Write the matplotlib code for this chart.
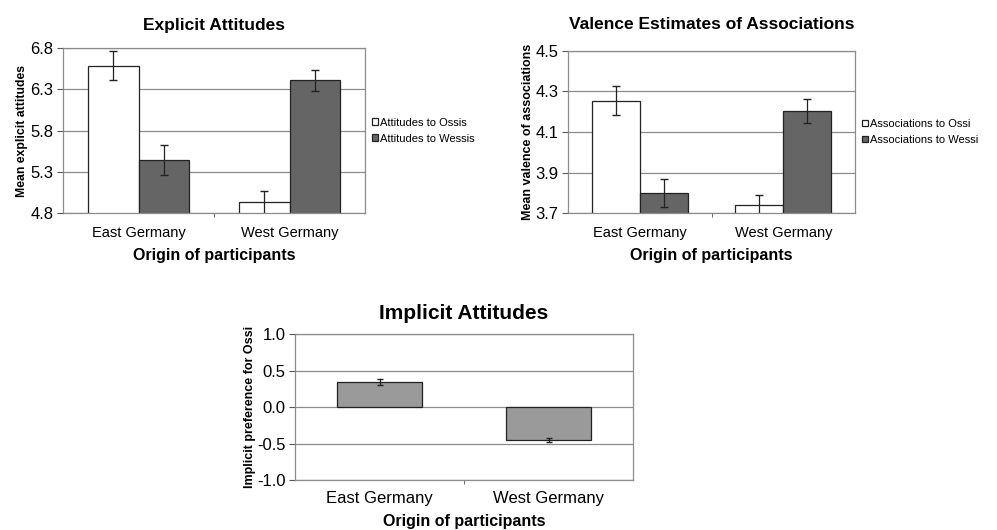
import numpy as np
import matplotlib.pyplot as plt

plt.rcParams['font.family'] = ['Liberation Sans', 'DejaVu Sans']

origins = ['East Germany', 'West Germany']

# explicit attitudes
explicit_ossi = [6.59, 4.93]
explicit_ossi_err = [0.18, 0.14]
explicit_wessi = [5.44, 6.41]
explicit_wessi_err = [0.18, 0.13]
explicit_ticks = [4.8, 5.3, 5.8, 6.3, 6.8]

# valence of associations
valence_ossi = [4.255, 3.74]
valence_ossi_err = [0.07, 0.05]
valence_wessi = [3.80, 4.205]
valence_wessi_err = [0.07, 0.06]
valence_ticks = [3.7, 3.9, 4.1, 4.3, 4.5]

# implicit attitudes
implicit_pref = [0.35, -0.45]
implicit_err = [0.04, 0.025]
implicit_ticks = [-1.0, -0.5, 0.0, 0.5, 1.0]

light = 'white'
dark = '#656565'
mid = '#9a9a9a'
grid_col = '#8c8c8c'


def style_axes(ax, ticks, fmt, ysize, xsize, xpad):
    ax.set_xlim(-0.5, 1.5)
    ax.set_ylim(ticks[0], ticks[-1])
    ax.set_yticks(ticks)
    ax.set_yticklabels([fmt % t for t in ticks], fontsize=ysize)
    ax.set_xticks([0, 1])
    ax.set_xticklabels(origins, fontsize=xsize)
    ax.set_xticks([0.5], minor=True)
    ax.tick_params(axis='x', which='major', length=0, pad=xpad)
    ax.tick_params(axis='x', which='minor', length=3, color='#555555')
    ax.tick_params(axis='y', length=4, color='#555555', pad=3)
    for t in ticks:
        ax.axhline(t, color=grid_col, lw=0.9, zorder=0)
    for s in ax.spines.values():
        s.set_color(grid_col)
        s.set_linewidth(0.9)


def paired(ax, ossi, ossi_err, wessi, wessi_err, labels):
    x = np.arange(len(origins))
    w = 1 / 3
    ax.bar(x - w / 2, ossi, w, color=light, edgecolor='#222222', lw=0.9,
           yerr=ossi_err, capsize=3, error_kw=dict(lw=0.9, ecolor='#222222'),
           label=labels[0], zorder=2)
    ax.bar(x + w / 2, wessi, w, color=dark, edgecolor='#222222', lw=0.9,
           yerr=wessi_err, capsize=3, error_kw=dict(lw=0.9, ecolor='#222222'),
           label=labels[1], zorder=2)


def legend(ax):
    ax.legend(loc='center left', bbox_to_anchor=(1.0, 0.5), frameon=False, fontsize=8,
              handlelength=0.55, handleheight=0.55, handletextpad=0.15, labelspacing=0.55,
              borderaxespad=0.2)


fig = plt.figure(figsize=(9.97, 5.30), dpi=100)

ax1 = fig.add_axes([0.0632, 0.598, 0.303, 0.311])
paired(ax1, explicit_ossi, explicit_ossi_err, explicit_wessi, explicit_wessi_err,
       ['Attitudes to Ossis', 'Attitudes to Wessis'])
style_axes(ax1, explicit_ticks, '%.1f', 12, 10.5, 9)
ax1.set_title('Explicit Attitudes', fontsize=12.5, fontweight='bold', pad=13)
ax1.set_ylabel('Mean explicit attitudes', fontsize=8.8, fontweight='bold', labelpad=2)
ax1.set_xlabel('Origin of participants', fontsize=11.5, fontweight='bold', labelpad=6)
legend(ax1)

ax2 = fig.add_axes([0.5697, 0.598, 0.288, 0.306])
paired(ax2, valence_ossi, valence_ossi_err, valence_wessi, valence_wessi_err,
       ['Associations to Ossi', 'Associations to Wessi'])
style_axes(ax2, valence_ticks, '%.1f', 12, 10.5, 9)
ax2.set_title('Valence Estimates of Associations', fontsize=12.5, fontweight='bold', pad=16)
ax2.set_ylabel('Mean valence of associations', fontsize=9.0, fontweight='bold', labelpad=1)
ax2.set_xlabel('Origin of participants', fontsize=11.5, fontweight='bold', labelpad=6)
legend(ax2)

ax3 = fig.add_axes([0.296, 0.0943, 0.339, 0.275])
ax3.bar(np.arange(len(origins)), implicit_pref, 0.5, color=mid, edgecolor='#222222', lw=0.9,
        yerr=implicit_err, capsize=2.5, error_kw=dict(lw=0.9, ecolor='#222222'), zorder=2)
style_axes(ax3, implicit_ticks, '%.1f', 12, 12, 8)
ax3.set_title('Implicit Attitudes', fontsize=15, fontweight='bold', pad=11)
ax3.set_ylabel('Implicit preference for Ossi', fontsize=9.0, fontweight='bold', labelpad=1)
ax3.set_xlabel('Origin of participants', fontsize=11.5, fontweight='bold', labelpad=6)

fig.savefig('out.png', dpi=100)
